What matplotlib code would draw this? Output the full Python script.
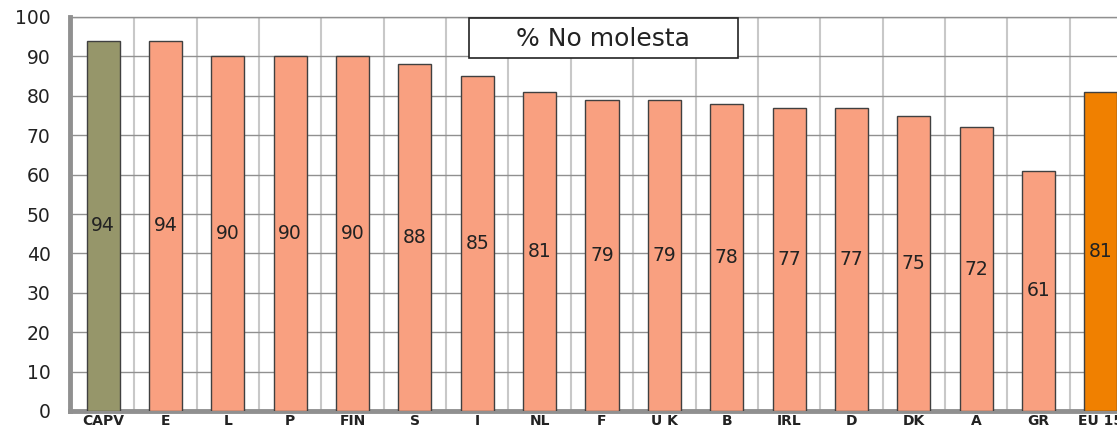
import numpy as np
import matplotlib.pyplot as plt
from matplotlib.patches import Rectangle

paises = ["CAPV", "E", "L", "P", "FIN", "S", "I", "NL", "F", "U K",
          "B", "IRL", "D", "DK", "A", "GR", "EU 15"]
no_molesta = [94, 94, 90, 90, 90, 88, 85, 81, 79, 79, 78, 77, 77, 75, 72, 61, 81]

plt.rcParams['font.family'] = ['DejaVu Sans']

col_capv = "#96966a"
col_pais = "#f9a080"
col_eu = "#f08000"
colores = [col_capv] + [col_pais] * (len(paises) - 2) + [col_eu]

fig = plt.figure(figsize=(11.17, 4.33), dpi=100)
# the axes runs past the right edge, the last bar is cut like in the original
ax = fig.add_axes([70 / 1117, 1 - 411 / 433, 1064 / 1117, 394 / 433])

x = np.arange(len(paises))
ax.bar(x, no_molesta, width=0.53, color=colores, edgecolor="#404040",
       linewidth=1.0, zorder=3)

for xi, v in zip(x, no_molesta):
    ax.text(xi, v / 2, str(v), ha="center", va="center", fontsize=13.5,
            color="#222222", zorder=4)

ax.set_xlim(-0.53, len(paises) - 0.47)
ax.set_ylim(0, 100)
ax.set_yticks(range(0, 101, 10))
ax.set_xticks(x)
ax.set_xticklabels(paises, fontsize=10, fontweight="bold", color="#222222")
ax.set_xticks(x[:-1] + 0.5, minor=True)
ax.tick_params(axis="y", length=0, pad=14, labelsize=13.5, labelcolor="#222222")
ax.tick_params(axis="x", which="both", length=0, pad=2)

ax.grid(axis="y", which="major", color="#909090", linewidth=1.0, zorder=0)
ax.grid(axis="x", which="minor", color="#c8c8c8", linewidth=1.5, zorder=0)

for s in ["left", "bottom"]:
    ax.spines[s].set_color("#909090")
    ax.spines[s].set_linewidth(3.5)
ax.spines["top"].set_color("#909090")
ax.spines["top"].set_linewidth(1.0)
ax.spines["right"].set_visible(False)

# title box
fig.patches.append(Rectangle((469 / 1117, 1 - 58 / 433), 269 / 1117, 40 / 433,
                             transform=fig.transFigure, facecolor="white",
                             edgecolor="#222222", linewidth=1.2, zorder=5))
fig.text(603 / 1117, 1 - 39 / 433, "% No molesta", ha="center", va="center",
         fontsize=18, color="#222222", zorder=6)

fig.savefig("out.png", dpi=100)
